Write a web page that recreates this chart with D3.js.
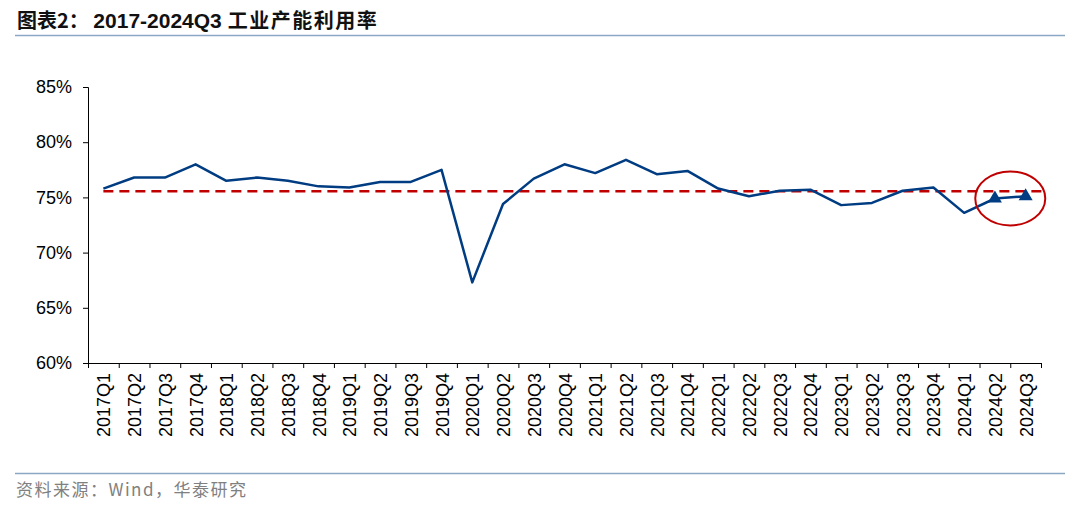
<!DOCTYPE html>
<html><head><meta charset="utf-8">
<script src="https://cdn.jsdelivr.net/npm/d3@7"></script>
<style>body{margin:0;background:#fff;}svg{display:block;}</style>
</head><body>
<svg id="c" width="1080" height="505"></svg>
<script>
const categories = ["2017Q1","2017Q2","2017Q3","2017Q4","2018Q1","2018Q2","2018Q3","2018Q4","2019Q1","2019Q2","2019Q3","2019Q4","2020Q1","2020Q2","2020Q3","2020Q4","2021Q1","2021Q2","2021Q3","2021Q4","2022Q1","2022Q2","2022Q3","2022Q4","2023Q1","2023Q2","2023Q3","2023Q4","2024Q1","2024Q2","2024Q3"];
const utilization = [75.8,76.8,76.8,78.0,76.5,76.8,76.5,76.0,75.9,76.4,76.4,77.5,67.3,74.4,76.7,78.0,77.2,78.4,77.1,77.4,75.8,75.1,75.6,75.7,74.3,74.5,75.6,75.9,73.6,74.9,75.1];
const highlighted = ["2024Q2","2024Q3"];
const averageLine = 75.55;
const yTicks = [60,65,70,75,80,85];
const titlePrefix = "图表2： ";
const titleYears = "2017-2024Q3";
const titleRest = " 工业产能利用率";
const sourceText = "资料来源：Wind，华泰研究";

const svg = d3.select("#c");
const pLeft = 88, pRight = 1041, pTop = 87, pBottom = 363;
const x = d3.scaleBand().domain(categories).range([pLeft, pRight]).padding(0);
const y = d3.scaleLinear().domain([60, 85]).range([pBottom, pTop]);
const cx = d => x(d) + x.bandwidth()/2;

// title
const title = svg.append("text").attr("x", 17).attr("y", 28)
  .attr("font-weight", "bold").attr("font-size", 20).attr("fill", "#111");
title.append("tspan").attr("font-family", "'Noto Sans CJK SC', sans-serif").text(titlePrefix);
title.append("tspan").attr("font-family", "'Liberation Sans', Arial, sans-serif").attr("font-size", 21).text(titleYears);
title.append("tspan").attr("font-family", "'Noto Sans CJK SC', sans-serif").attr("letter-spacing", 1.5).text(titleRest);
svg.append("line").attr("x1", 15).attr("x2", 1065).attr("y1", 35.5).attr("y2", 35.5)
  .attr("stroke", "#8CA6C6").attr("stroke-width", 1.5);

// footer
svg.append("line").attr("x1", 15).attr("x2", 1065).attr("y1", 473.5).attr("y2", 473.5)
  .attr("stroke", "#8CA6C6").attr("stroke-width", 1.5);
svg.append("text").attr("x", 16).attr("y", 496)
  .attr("font-family", "'Noto Sans CJK SC', sans-serif").attr("letter-spacing", 1.5)
  .attr("font-size", 17).attr("fill", "#808080").text(sourceText);

// y axis
const yAxis = d3.axisLeft(y).tickValues(yTicks).tickSize(5).tickFormat(d => d + "%");
const gy = svg.append("g").attr("transform", `translate(${pLeft},0)`).call(yAxis);
gy.select(".domain").attr("stroke", "#000").attr("stroke-width", 1);
gy.selectAll(".tick line").attr("stroke", "#000");
gy.selectAll("text").attr("font-family", "'Liberation Sans', Arial, sans-serif")
  .attr("font-size", 18).attr("fill", "#000").attr("x", -16);

// x axis
const gx = svg.append("g").attr("transform", `translate(0,${pBottom})`)
  .call(d3.axisBottom(x).tickSize(0).tickFormat(""));
gx.select(".domain").attr("stroke", "#000").attr("stroke-width", 1);
const bounds = categories.map(c => x(c)).concat([pRight]);
svg.append("g").selectAll("line").data(bounds).join("line")
  .attr("x1", d => d + 0.5).attr("x2", d => d + 0.5)
  .attr("y1", pBottom).attr("y2", pBottom + 5).attr("stroke", "#000");
svg.append("g").selectAll("text").data(categories).join("text")
  .attr("transform", d => `translate(${cx(d) + 7},${pBottom + 10}) rotate(-90)`)
  .attr("text-anchor", "end")
  .attr("font-family", "'Liberation Sans', Arial, sans-serif")
  .attr("font-size", 18).attr("fill", "#000").text(d => d);

// average dashed line
svg.append("line")
  .attr("x1", cx(categories[0])).attr("x2", pRight + 4)
  .attr("y1", y(averageLine)).attr("y2", y(averageLine))
  .attr("stroke", "#C00000").attr("stroke-width", 2.5).attr("stroke-dasharray", "10,6");

// main line
const line = d3.line().x((d, i) => cx(categories[i])).y(d => y(d));
svg.append("path").datum(utilization).attr("d", line)
  .attr("fill", "none").attr("stroke", "#003C82").attr("stroke-width", 2.5)
  .attr("stroke-linejoin", "round");

// triangle markers
const tri = d3.symbol().type(d3.symbolTriangle).size(85);
svg.append("g").selectAll("path").data(highlighted).join("path")
  .attr("transform", d => `translate(${cx(d)},${y(utilization[categories.indexOf(d)])})`)
  .attr("d", tri).attr("fill", "#003C82");

// highlight ellipse
const ex = (cx(highlighted[0]) + cx(highlighted[1])) / 2;
const ey = y(d3.mean(highlighted, h => utilization[categories.indexOf(h)])) + 1;
svg.append("ellipse").attr("cx", ex).attr("cy", ey).attr("rx", 35).attr("ry", 27)
  .attr("fill", "none").attr("stroke", "#C00000").attr("stroke-width", 2);
</script>
</body></html>
